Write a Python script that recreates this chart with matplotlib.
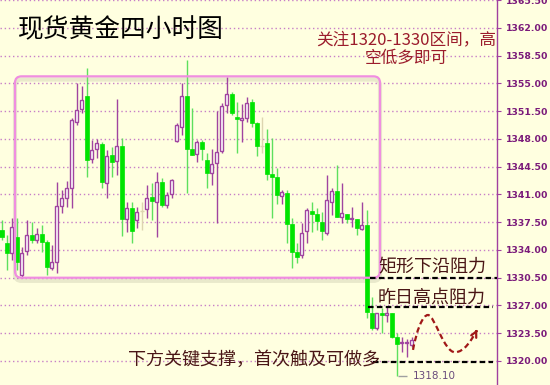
import matplotlib
matplotlib.use("Agg")
import matplotlib.pyplot as plt
from matplotlib.path import Path
from matplotlib.patches import PathPatch, FancyBboxPatch
import numpy as np

plt.rcParams['font.family'] = ['Noto Sans CJK SC', 'DejaVu Sans']

# 4H candles (open, high, low, close)
opens = [1336.5, 1334.9, 1333.6, 1335.6, 1330.8, 1333.9, 1335.9, 1335.3, 1336.0, 1335.0,
         1331.7, 1332.5, 1339.5, 1340.6, 1341.8, 1350.1, 1351.8, 1353.4, 1345.5, 1346.7,
         1347.4, 1342.4, 1346.0, 1345.2, 1347.1, 1337.9, 1339.3, 1337.8, 1338.9, 1339.2,
         1340.7, 1340.1, 1342.6, 1339.7, 1341.1, 1347.7, 1349.5, 1353.4, 1346.7, 1346.1,
         1347.6, 1345.4, 1343.7, 1345.0, 1346.5, 1352.3, 1353.7, 1350.8, 1350.4, 1350.6,
         1352.7, 1350.0, 1347.1, 1347.5, 1343.6, 1343.2, 1340.8, 1341.2, 1337.3, 1333.7,
         1333.4, 1336.4, 1338.9, 1338.5, 1337.5, 1336.1, 1340.1, 1341.4, 1338.2, 1338.5,
         1337.9, 1337.9, 1336.6, 1337.2, 1326.1, 1324.2, 1326.1, 1325.8, 1326.1, 1323.0,
         1322.3, 1322.3, 1322.0]
highs = [1337.8, 1335.9, 1338.0, 1338.0, 1334.4, 1337.8, 1337.5, 1336.8, 1337.2, 1335.3,
         1334.6, 1342.6, 1341.6, 1342.7, 1350.6, 1355.1, 1354.7, 1357.0, 1347.9, 1348.0,
         1347.6, 1346.6, 1347.0, 1353.0, 1348.1, 1340.1, 1340.1, 1339.4, 1340.1, 1342.2,
         1342.4, 1343.8, 1343.1, 1341.3, 1343.0, 1350.0, 1355.1, 1358.0, 1351.9, 1347.9,
         1347.9, 1346.2, 1346.7, 1351.5, 1352.5, 1355.8, 1353.9, 1352.7, 1352.4, 1353.3,
         1353.0, 1350.1, 1350.8, 1349.3, 1348.1, 1344.3, 1341.6, 1341.6, 1338.0, 1334.9,
         1337.4, 1339.3, 1340.1, 1339.3, 1338.8, 1343.5, 1341.8, 1344.7, 1342.4, 1338.5,
         1339.4, 1337.9, 1340.1, 1339.0, 1328.1, 1326.1, 1326.7, 1326.8, 1326.1, 1323.5,
         1323.0, 1322.8, 1323.0]
lows = [1335.3, 1331.5, 1332.7, 1331.5, 1330.5, 1333.4, 1334.9, 1334.9, 1333.7, 1330.8,
        1331.5, 1331.1, 1338.7, 1339.4, 1339.3, 1349.8, 1351.3, 1343.2, 1345.0, 1345.6,
        1341.8, 1340.6, 1343.2, 1343.5, 1335.8, 1336.3, 1334.9, 1336.8, 1336.5, 1338.0,
        1337.8, 1335.6, 1339.4, 1339.3, 1340.6, 1347.6, 1348.5, 1341.2, 1346.0, 1345.1,
        1345.4, 1341.8, 1342.2, 1337.4, 1346.2, 1351.3, 1351.0, 1346.2, 1347.6, 1350.1,
        1349.5, 1345.9, 1346.2, 1342.8, 1338.0, 1339.8, 1339.8, 1334.9, 1331.7, 1332.4,
        1333.0, 1334.9, 1336.3, 1336.5, 1335.3, 1335.9, 1338.4, 1338.2, 1337.4, 1337.4,
        1336.9, 1335.9, 1336.5, 1325.4, 1323.9, 1323.9, 1323.5, 1324.9, 1322.9, 1318.1,
        1321.1, 1320.5, 1321.8]
closes = [1335.6, 1333.6, 1336.9, 1332.5, 1333.6, 1335.9, 1335.3, 1336.0, 1335.0, 1331.9,
          1332.5, 1339.5, 1340.6, 1341.8, 1350.4, 1351.7, 1352.9, 1345.4, 1346.6, 1347.5,
          1342.6, 1345.9, 1345.1, 1347.1, 1337.9, 1339.3, 1336.4, 1338.8, 1338.9, 1340.6,
          1340.2, 1342.6, 1339.7, 1340.9, 1342.8, 1349.8, 1353.4, 1346.7, 1346.0, 1347.6,
          1346.7, 1343.7, 1344.8, 1346.4, 1352.2, 1353.7, 1351.3, 1350.5, 1350.6, 1352.5,
          1350.0, 1347.1, 1347.1, 1343.6, 1343.2, 1340.9, 1341.3, 1337.3, 1333.7, 1333.1,
          1336.1, 1339.0, 1338.5, 1337.7, 1336.4, 1340.3, 1341.4, 1338.2, 1338.7, 1337.9,
          1337.9, 1336.8, 1337.2, 1326.2, 1324.2, 1326.1, 1325.8, 1326.1, 1323.0, 1322.1,
          1322.4, 1322.4, 1322.6]
faint = [28, 52]

yticks = [1320.0, 1323.5, 1327.0, 1330.5, 1334.0, 1337.5, 1341.0, 1344.5, 1348.0,
          1351.5, 1355.0, 1358.5, 1362.0, 1365.5]
low_price = 1318.10
box_low, box_high = 1330.5, 1355.9
line1, line2, line3 = 1330.5, 1326.8, 1319.9

bg = '#ffffe0'
up_c = '#a044a0'
dn_c = '#00e400'
dn_wick = '#5ee05e'

fig = plt.figure(figsize=(5.5, 3.85), dpi=100, facecolor=bg)
ax = fig.add_axes([0, 0, 497 / 550, 1])
ax.set_facecolor(bg)

n = len(opens)
for i in range(n):
    o, h, l, c = opens[i], highs[i], lows[i], closes[i]
    if i in faint:
        ax.vlines(i, l, h, color='#ddd5b0', lw=1, zorder=3)
        ax.hlines(c, i - 0.4, i + 0.4, color='#ddd5b0', lw=1, zorder=3)
        continue
    up = c >= o
    ax.vlines(i, l, h, color=up_c if up else dn_wick, lw=1, zorder=3)
    bot = min(o, c)
    hgt = max(abs(c - o), 0.15)
    if up:
        ax.bar(i, hgt, bottom=bot, width=0.75, facecolor='white',
               edgecolor=up_c, lw=1, zorder=4)
    else:
        ax.bar(i, hgt, bottom=bot, width=0.8, facecolor=dn_c,
               edgecolor=dn_c, lw=0.5, zorder=4)

ax.set_xlim(-0.3, 99.1)
ax.set_ylim(1316.97, 1365.53)

# grid
for t in yticks:
    ax.axhline(t, color='#c77fc7', lw=1, ls=(0, (1, 2)), zorder=1)

# box
shadow = FancyBboxPatch((2.7, box_low - 0.4), 73.0, box_high - box_low,
                        boxstyle='round,pad=0,rounding_size=1.3', mutation_aspect=0.63,
                        fill=False, edgecolor='#888870', lw=3, alpha=0.18, zorder=2)
ax.add_patch(shadow)
box = FancyBboxPatch((2.7, box_low), 73.0, box_high - box_low,
                     boxstyle='round,pad=0,rounding_size=1.3', mutation_aspect=0.63,
                     fill=False, edgecolor='#f08ee0', lw=1.6, zorder=5)
ax.add_patch(box)

# dashed levels
ax.hlines(line1, 73.7, 99.1, color='black', lw=1.6, ls=(0, (2.5, 1.5)), zorder=6)
ax.hlines(line2, 73.3, 98.3, color='black', lw=1.6, ls=(0, (2.5, 1.5)), zorder=6)
ax.hlines(line3, 74.3, 98.3, color='black', lw=1.6, ls=(0, (2.5, 1.5)), zorder=6)

txt_c = '#4a1616'
ax.text(75.3, 1331.8, '矩形下沿阻力', fontsize=13, color=txt_c, va='center', ha='left', zorder=7)
ax.text(75.3, 1328.0, '昨日高点阻力', fontsize=13, color=txt_c, va='center', ha='left', zorder=7)
ax.text(25.3, 1320.2, '下方关键支撑，首次触及可做多', fontsize=13, color=txt_c,
        va='center', ha='left', zorder=7)

# low marker
ax.hlines(low_price, 79.3, 81.1, color='#a0a0a0', lw=1, zorder=5)
ax.text(82.3, low_price, '%.2f' % low_price, fontsize=7.5, color='#6a4c7c',
        family='DejaVu Sans', va='center', ha='left', zorder=7)

# expected path arrow
red = '#a01818'
verts = [(82.3, 1321.4), (83.0, 1323.8), (84.2, 1325.8), (85.3, 1325.8),
         (86.6, 1325.8), (88.5, 1321.1), (90.7, 1321.1),
         (92.5, 1321.1), (94.0, 1322.6), (95.0, 1323.8)]
codes = [Path.MOVETO] + [Path.CURVE4] * 9
ax.add_patch(PathPatch(Path(verts, codes), fill=False, edgecolor=red, lw=1.6,
                       ls=(0, (2.5, 1.5)), zorder=6))
ax.annotate('', xy=(95.4, 1324.3), xytext=(94.7, 1323.4),
            arrowprops=dict(arrowstyle='->', color=red, lw=1.6, mutation_scale=10), zorder=6)

# axis
for s in ['top', 'left', 'bottom']:
    ax.spines[s].set_visible(False)
ax.spines['right'].set_color('#a040a0')
ax.spines['right'].set_linewidth(1)
ax.set_xticks([])
ax.yaxis.tick_right()
ax.set_yticks(yticks)
ax.set_yticklabels(['%.2f' % t for t in yticks], family='DejaVu Sans',
                   fontweight='bold', fontsize=6.7, color='#7a1a7a')
ax.tick_params(axis='y', length=3, color='#a040a0', pad=3.5)

fig.text(18 / 550, 1 - 30 / 385, '现货黄金四小时图', fontsize=18.5, color='black',
         fontweight='light', va='center', ha='left')
fig.text(406 / 550, 1 - 49 / 385, '关注1320-1330区间，高\n空低多即可', fontsize=12,
         color='#9b1c2c', va='center', ha='center', multialignment='center', linespacing=1.15)

fig.savefig('out.png', dpi=100, facecolor=bg)
